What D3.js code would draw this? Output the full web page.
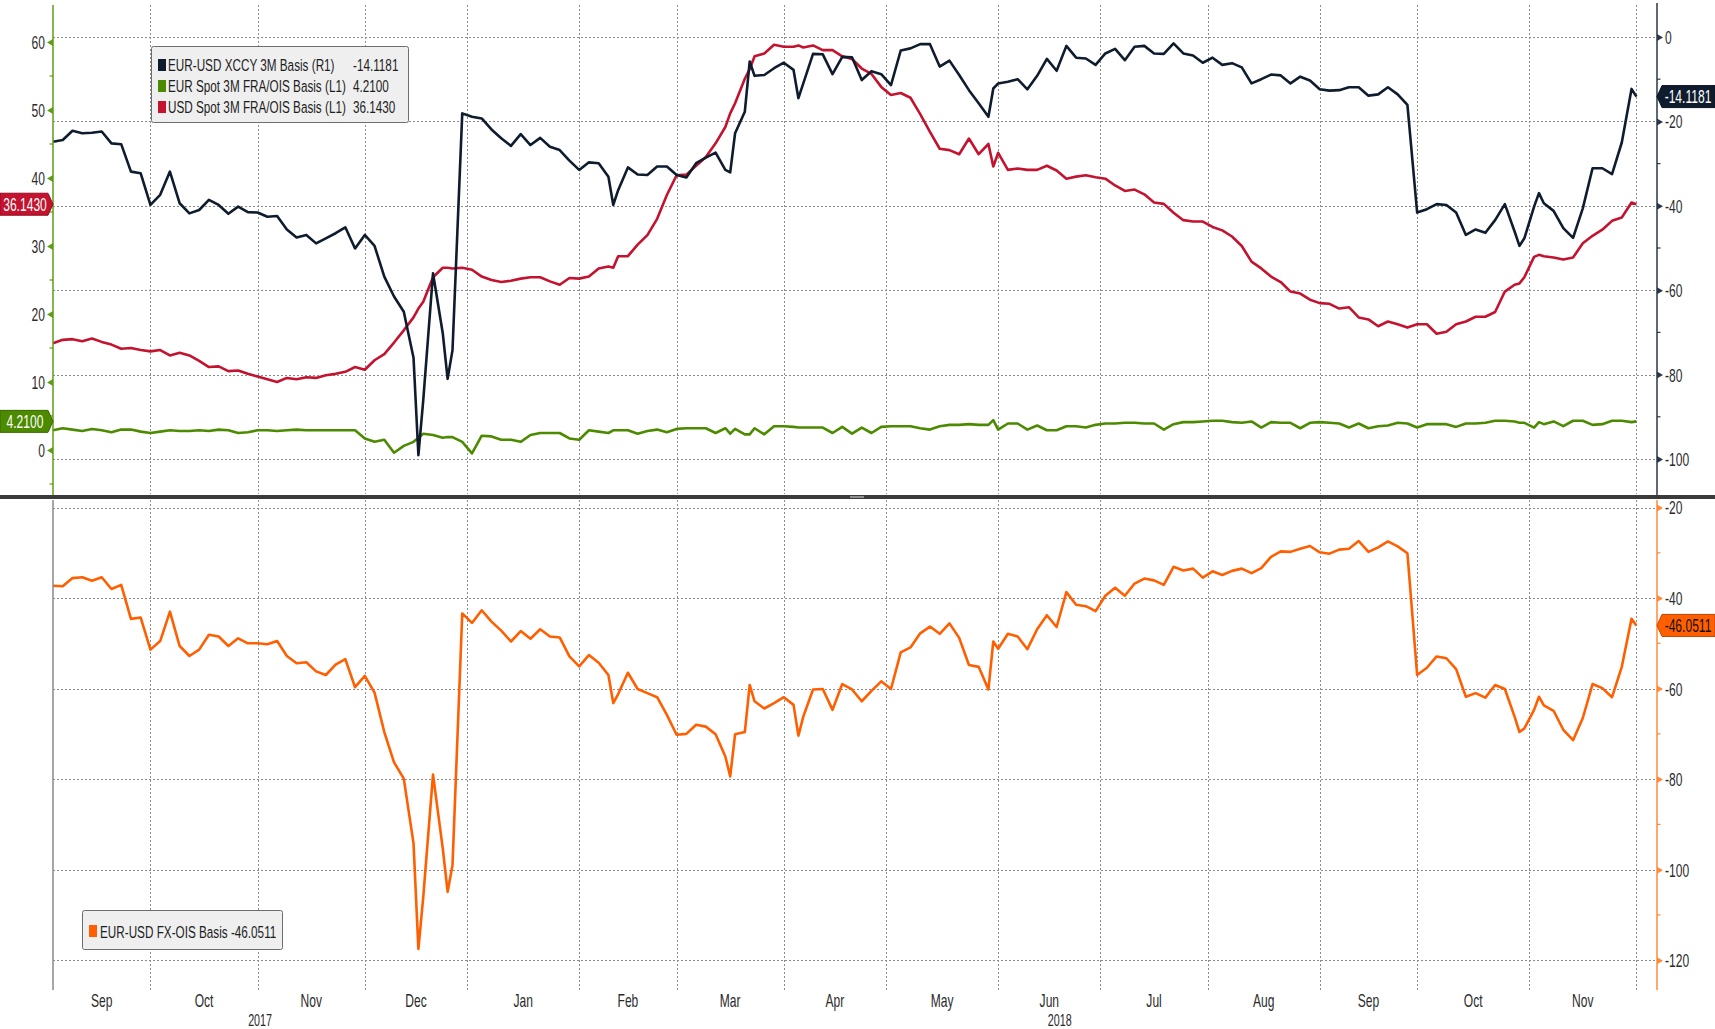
<!DOCTYPE html>
<html>
<head>
<meta charset="utf-8">
<script src="https://cdn.jsdelivr.net/npm/d3@7"></script>
<style>
  body { margin: 0; background: #fff; }
  svg { display: block; font-family: "Liberation Sans", Arial, sans-serif; }
</style>
</head>
<body>
<svg id="chart" width="1715" height="1029"></svg>
<script>
// trading-day offsets from Mon 4 Sep 2017 (weekdays only)
const days = [
  0,2,4,6,8,10,12,14,16,18,20,22,24,26,28,30,32,34,36,38,40,42,44,46,48,50,52,54,56,58,60,62,64,66,68,70,72,74,
  75,76,78,80,81,82,
  84,86,88,90,92,94,96,98,100,102,104,106,108,110,112,114,
  115,116,118,120,122,124,126,128,130,132,134,136,138,
  139,140,142,143,144,146,148,150,152,153,154,
  156,158,160,162,164,166,168,170,172,174,176,178,180,182,184,186,188,190,192,
  193,
  194,196,198,200,202,204,206,208,210,212,214,216,218,220,222,224,226,228,230,232,234,236,238,240,242,244,246,248,250,
  252,254,256,258,260,262,264,266,268,270,272,274,276,278,280,282,284,286,288,290,292,294,296,298,300,
  301,302,304,305,306,308,310,312,314,316,318,320,322,324,325
];

// EUR-USD XCCY 3M Basis (R1)
const xccy = [
  -24.8,-24.4,-22.2,-22.8,-22.7,-22.4,-25.2,-25.4,-31.9,-32.3,
  -39.8,-37.4,-31.9,-39.4,-41.8,-41.0,-38.6,-39.8,-41.9,-40.2,
  -41.5,-41.6,-42.6,-42.4,-45.6,-47.5,-46.9,-48.9,-47.7,-46.5,
  -45.1,-50.1,-46.9,-49.5,-56.8,-61.5,-65.1,-76.0,
  -99.1,-86.0,-56.0,-70.2,-81.0,-74.2,
  -18.1,-18.9,-19.3,-21.9,-24.0,-25.8,-23.0,-25.6,-23.9,-26.0,
  -26.8,-29.3,-31.5,-29.7,-29.9,-33.1,
  -39.8,-36.3,-30.9,-32.6,-32.7,-30.7,-30.7,-32.7,-33.3,-29.9,-28.6,-27.4,-31.5,
  -32.1,-22.8,-17.7,-5.8,-9.2,-9.0,-7.4,-6.1,-7.8,-14.5,-11.0,
  -4.0,-4.1,-8.8,-4.7,-4.8,-10.2,-8.1,-8.8,-11.4,-3.2,-2.7,-1.7,-1.7,-7.0,-5.6,-9.0,-12.6,-15.7,-18.9,
  -12.2,
  -11.0,-10.6,-10.0,-12.4,-9.2,-5.2,-8.0,-2.1,-4.9,-5.1,-6.6,-3.9,-2.8,-5.5,-2.3,-2.1,-3.9,-4.0,-1.5,-3.9,
  -4.4,-6.1,-4.9,-6.6,-6.2,-7.2,-11.0,-10.0,-8.9,-9.1,-11.0,-9.4,-10.3,-12.4,-12.7,-12.6,-11.9,-11.9,-13.9,-13.6,
  -11.9,-13.6,-16.1,-41.6,-40.8,-39.6,-39.8,-41.6,-46.9,-45.6,-46.4,-43.4,-39.6,-46.1,
  -49.5,-47.7,-40.2,-37.0,-39.4,-41.2,-45.3,-47.6,-40.6,-31.1,-31.1,-32.5,-25.0,-12.3,-14.1181
];

// EUR Spot 3M FRA/OIS Basis (L1)
const eurFra = [
  2.9,3.2,3.0,2.8,3.1,2.9,2.6,3.0,3.0,2.7,
  2.5,2.7,2.9,2.8,2.8,2.9,2.8,3.0,2.9,2.5,
  2.6,2.9,2.9,2.8,2.9,3.0,2.9,2.9,2.9,2.9,
  2.9,2.9,1.7,1.2,1.5,-0.4,0.6,1.2,
  1.8,2.4,2.2,1.8,1.9,1.9,
  1.2,-0.5,2.1,2.0,1.5,1.5,1.2,2.2,2.5,2.5,
  2.5,1.7,1.5,2.9,2.7,2.5,
  2.9,2.9,2.9,2.4,2.8,3.0,2.6,3.1,3.2,3.2,3.2,2.5,3.2,
  2.4,3.1,2.3,2.3,3.2,2.3,3.5,3.5,3.4,3.3,3.3,
  3.3,3.3,2.5,3.4,2.4,3.3,2.5,3.4,3.5,3.5,3.5,3.2,3.0,3.5,3.7,3.7,3.8,3.7,3.7,
  4.4,
  3.0,3.9,3.9,3.0,3.6,2.9,2.9,3.5,3.5,3.3,3.7,3.9,3.9,4.0,4.0,3.9,3.9,3.0,3.8,4.1,
  4.1,4.2,4.3,4.3,4.1,4.0,4.2,3.3,4.1,4.0,4.0,3.2,4.0,4.1,4.0,3.9,3.3,3.9,3.2,3.5,
  3.6,4.0,3.9,3.3,3.8,3.8,3.8,3.4,3.9,3.9,4.0,4.3,4.3,4.2,
  4.0,4.0,3.3,4.1,3.8,4.2,3.5,4.3,4.3,3.7,3.8,4.3,4.3,4.1,4.21
];

// USD Spot 3M FRA/OIS Basis (L1)
const usdFra = [
  15.7,16.2,16.3,16.0,16.4,15.9,15.5,14.9,15.0,14.7,
  14.5,14.7,13.9,14.3,13.9,13.1,12.2,12.3,11.6,11.7,
  11.2,10.8,10.4,10.0,10.6,10.4,10.7,10.6,11.0,11.2,
  11.5,12.2,11.8,13.2,14.1,15.8,17.6,19.5,
  20.8,21.8,25.4,26.8,26.8,26.7,
  26.8,26.5,25.5,25.0,24.7,24.9,25.2,25.4,25.4,24.8,
  24.3,25.3,25.2,25.5,26.7,27.0,
  26.8,28.5,28.5,30.2,31.6,34.0,37.5,40.4,40.5,41.8,43.1,45.1,47.5,
  49.5,51.0,54.6,56.0,57.9,58.3,59.6,59.3,59.3,59.5,59.2,
  59.5,58.8,58.8,57.9,57.5,56.1,55.3,53.4,52.2,52.5,51.8,49.4,46.8,44.3,44.1,43.5,45.8,43.5,45.0,
  41.7,
  43.7,41.2,41.4,41.2,41.2,41.8,41.1,39.9,40.2,40.4,40.1,39.9,38.9,38.1,38.3,37.6,36.4,36.2,34.9,33.8,
  33.6,33.6,32.8,32.3,31.4,30.0,27.7,26.7,25.5,24.7,23.3,23.0,22.1,21.6,21.5,20.8,21.0,19.5,19.2,18.2,
  18.9,18.5,18.0,18.5,18.5,17.1,17.4,18.5,18.9,19.6,19.6,20.3,23.3,24.3,
  24.5,25.4,28.4,28.7,28.5,28.3,28.0,28.3,30.4,31.5,32.4,33.7,34.2,36.4,36.143
];

// EUR-USD FX-OIS Basis
const fxOis = [
  -37.3,-37.4,-35.6,-35.4,-36.2,-35.4,-38.0,-37.1,-44.6,-44.3,
  -51.4,-49.5,-43.0,-50.6,-52.8,-51.4,-48.1,-48.5,-50.6,-48.9,
  -50.0,-50.0,-50.2,-49.5,-52.8,-54.4,-54.2,-56.2,-57.0,-54.7,
  -53.5,-59.7,-57.2,-60.9,-69.6,-76.3,-79.9,-94.2,
  -117.5,-106.0,-79.0,-95.3,-104.9,-99.0,
  -43.4,-45.5,-42.7,-45.2,-47.2,-49.6,-47.3,-49.0,-46.9,-48.5,
  -48.7,-52.9,-55.1,-52.6,-54.3,-57.0,
  -63.2,-61.2,-56.5,-60.1,-61.0,-61.9,-65.8,-70.2,-70.0,-68.0,-68.4,-70.1,-75.0,
  -79.4,-70.1,-69.6,-59.2,-62.8,-64.4,-63.2,-61.9,-63.6,-70.4,-66.2,
  -60.2,-60.1,-64.7,-59.0,-60.2,-62.8,-60.5,-58.4,-60.1,-52.0,-50.9,-47.8,-46.3,-47.9,-45.6,-48.8,-54.8,-55.2,-60.2,
  -49.6,
  -51.2,-47.9,-48.5,-51.3,-46.9,-43.8,-46.4,-38.7,-41.5,-41.8,-42.9,-39.5,-37.7,-39.5,-36.8,-35.7,-36.1,-37.1,-33.1,-33.9,
  -33.5,-35.5,-34.1,-34.9,-34.0,-33.5,-34.5,-33.4,-30.9,-29.7,-29.8,-29.1,-28.5,-29.9,-30.2,-29.3,-29.1,-27.4,-29.8,-28.8,
  -27.5,-28.6,-30.1,-57.0,-55.4,-52.9,-53.3,-55.7,-61.8,-61.0,-62.0,-59.2,-60.1,-66.2,
  -69.6,-68.8,-64.7,-61.8,-63.7,-64.9,-69.1,-71.4,-66.5,-59.0,-59.9,-61.9,-55.2,-44.6,-46.0511
];

const monthNames = ["Jan","Feb","Mar","Apr","May","Jun","Jul","Aug","Sep","Oct","Nov","Dec"];
const leftTicks = [0, 10, 20, 30, 40, 50, 60];
const leftMinor = [-5, 5, 15, 25, 35, 45, 55];
const rightTicks = [0, -20, -40, -60, -80, -100];
const rightMinor = [-10, -30, -50, -70, -90];
const lowTicks = [-20, -40, -60, -80, -100, -120];
const lowMinor = [-30, -50, -70, -90, -110];
const topNames = ["EUR-USD XCCY 3M Basis (R1)", "EUR Spot 3M FRA/OIS Basis (L1)", "USD Spot 3M FRA/OIS Basis (L1)"];
const lowName = "EUR-USD FX-OIS Basis";

const navy = "#0f1c2e", green = "#4c8a00", red = "#c3132f", orange = "#ff5f00";
const SX = 0.67; // narrow Bloomberg-like lettering

const svg = d3.select("#chart");
const X0 = 53, X1 = 1657;

// weekday calendar for the x axis
const start = new Date(2017, 8, 4), end = new Date(2018, 11, 3);
const cal = d3.timeDay.range(start, d3.timeDay.offset(end, 1))
  .filter(d => d.getDay() !== 0 && d.getDay() !== 6);
const x = d3.scaleLinear().domain([0, cal.length - 1]).range([53, 1636.4]);

const monthStarts = [];
cal.forEach((d, i) => { if (i === 0 || d.getMonth() !== cal[i - 1].getMonth()) monthStarts.push(i); });

const yL = d3.scaleLinear().domain([0, 60]).range([450, 42]);
const yR = d3.scaleLinear().domain([0, -100]).range([37, 459]);
const yB = d3.scaleLinear().domain([-20, -120]).range([507.5, 960.2]);

const num = v => String(v);          // plain hyphen minus, as on the terminal
const f4 = v => v.toFixed(4);

function txt(g, px, py, s, o) {
  o = o || {};
  return g.append("text")
    .attr("transform", `translate(${px},${py}) scale(${o.sx || SX},1)`)
    .attr("text-anchor", o.anchor || "start")
    .attr("font-size", o.size || 18)
    .attr("fill", o.fill || "#2b2b2b")
    .text(s);
}

// grid
const grid = svg.append("g").attr("stroke", "#8c8c8c").attr("stroke-width", 1).attr("stroke-dasharray", "2,2");
monthStarts.slice(1).forEach(i => {
  const gx = Math.round(x(i)) + 0.5;
  grid.append("line").attr("x1", gx).attr("x2", gx).attr("y1", 5).attr("y2", 494);
  grid.append("line").attr("x1", gx).attr("x2", gx).attr("y1", 500).attr("y2", 990);
});
rightTicks.forEach(v => {
  const gy = Math.round(yR(v)) + 0.5;
  grid.append("line").attr("x1", X0).attr("x2", X1).attr("y1", gy).attr("y2", gy);
});
lowTicks.forEach(v => {
  const gy = Math.round(yB(v)) + 0.5;
  grid.append("line").attr("x1", X0).attr("x2", X1).attr("y1", gy).attr("y2", gy);
});

// lines
function drawLine(vals, yS, color) {
  const line = d3.line().x((d, i) => x(days[i])).y(d => yS(d));
  svg.append("path").datum(vals).attr("d", line)
    .attr("fill", "none").attr("stroke", color).attr("stroke-width", 2.6)
    .attr("stroke-linejoin", "round");
}
drawLine(usdFra, yL, red);
drawLine(eurFra, yL, green);
drawLine(xccy, yR, navy);
drawLine(fxOis, yB, orange);

// axes
function sideAxis(scale, ticks, minor, side, color, y0, y1) {
  const ax = side === "left" ? d3.axisLeft(scale) : d3.axisRight(scale);
  const g = svg.append("g").attr("transform", `translate(${side === "left" ? X0 : X1},0)`)
    .call(ax.tickValues(ticks).tickFormat(num).tickSize(0).tickPadding(0));
  g.attr("font-family", null).attr("font-size", null);
  g.select(".domain").remove();
  const dir = side === "left" ? -1 : 1;
  g.append("line").attr("x1", 0).attr("x2", 0).attr("y1", y0).attr("y2", y1)
    .attr("stroke", color).attr("stroke-width", 1.5);
  g.selectAll(".tick").append("path")
    .attr("d", `M0,-3.5L${dir * 6},0L0,3.5Z`).attr("fill", color);
  g.selectAll(".tick text")
    .attr("x", null).attr("dy", "0.36em")
    .attr("transform", `translate(${dir * 8},0) scale(${SX},1)`)
    .attr("font-size", 18).attr("fill", "#2b2b2b");
  g.selectAll(".mtick").data(minor).enter().append("line")
    .attr("x1", 0).attr("x2", dir * 3.5)
    .attr("y1", d => scale(d)).attr("y2", d => scale(d))
    .attr("stroke", color).attr("stroke-width", 1.2);
  return g;
}
sideAxis(yL, leftTicks, leftMinor, "left", "#5f9c16", 5, 495);
sideAxis(yR, rightTicks, rightMinor, "right", "#2a364a", 3, 495);
sideAxis(yB, lowTicks, lowMinor, "right", "#ff8a3c", 500, 990);
svg.append("line").attr("x1", X0).attr("x2", X0).attr("y1", 500).attr("y2", 990)
  .attr("stroke", "#8a8a8a").attr("stroke-width", 1.5);

// pane separator
svg.append("rect").attr("x", 0).attr("y", 495).attr("width", 1715).attr("height", 4).attr("fill", "#3b3b3b");
svg.append("rect").attr("x", 850).attr("y", 496).attr("width", 14).attr("height", 2).attr("fill", "#8f8f8f");

// x axis labels
const xl = svg.append("g");
for (let k = 0; k < monthStarts.length - 1; k++) {
  const a = monthStarts[k], b = monthStarts[k + 1];
  txt(xl, (x(a) + x(b)) / 2, 1006.5, monthNames[cal[a].getMonth()], { anchor: "middle" });
}
const jan = monthStarts.find(i => cal[i].getMonth() === 0);
txt(xl, (x(0) + x(jan)) / 2, 1025.5, "2017", { anchor: "middle", size: 16 });
txt(xl, (x(jan) + x(cal.length - 1)) / 2 + 8, 1025.5, "2018", { anchor: "middle", size: 16 });

// legends
const last = a => a[a.length - 1];
const leg = svg.append("g");
const legOpt = { size: 17, sx: 0.69, fill: "#1e1e1e" };
leg.append("rect").attr("x", 151.5).attr("y", 46.5).attr("width", 257).attr("height", 76).attr("rx", 2)
  .attr("fill", "#efefef").attr("stroke", "#6d6d6d");
[[navy, topNames[0], last(xccy)], [green, topNames[1], last(eurFra)], [red, topNames[2], last(usdFra)]]
  .forEach((r, i) => {
    const cy = 65 + i * 21;
    leg.append("rect").attr("x", 158).attr("y", cy - 6).attr("width", 8).attr("height", 12).attr("fill", r[0]);
    txt(leg, 168, cy + 6, r[1], legOpt);
    txt(leg, 353, cy + 6, f4(r[2]), legOpt);
  });
leg.append("rect").attr("x", 82.5).attr("y", 910.5).attr("width", 200).attr("height", 39).attr("rx", 2)
  .attr("fill", "#efefef").attr("stroke", "#6d6d6d");
leg.append("rect").attr("x", 89).attr("y", 925).attr("width", 8).attr("height", 12).attr("fill", orange);
txt(leg, 100, 937.5, lowName + " " + f4(last(fxOis)), legOpt);

// last-value tags
function tagLeft(v, yS, color, tc) {
  const ty = yS(v);
  svg.append("path").attr("d", `M0,${ty - 11}L48,${ty - 11}L53,${ty}L48,${ty + 11}L0,${ty + 11}Z`)
    .attr("fill", color).attr("stroke", d3.color(color).darker(0.8)).attr("stroke-width", 1);
  txt(svg, 25, ty + 6.5, f4(v), { anchor: "middle", fill: tc });
}
function tagRight(v, yS, color, tc) {
  const ty = yS(v);
  svg.append("path").attr("d", `M1715,${ty - 11}L1662,${ty - 11}L1657,${ty}L1662,${ty + 11}L1715,${ty + 11}Z`)
    .attr("fill", color).attr("stroke", d3.color(color).darker(0.8)).attr("stroke-width", 1);
  txt(svg, 1688, ty + 6.5, f4(v), { anchor: "middle", fill: tc });
}
tagLeft(last(usdFra), yL, red, "#ffffff");
tagLeft(last(eurFra), yL, green, "#ffffff");
tagRight(last(xccy), yR, navy, "#ffffff");
tagRight(last(fxOis), yB, orange, "#111111");
</script>
</body>
</html>
